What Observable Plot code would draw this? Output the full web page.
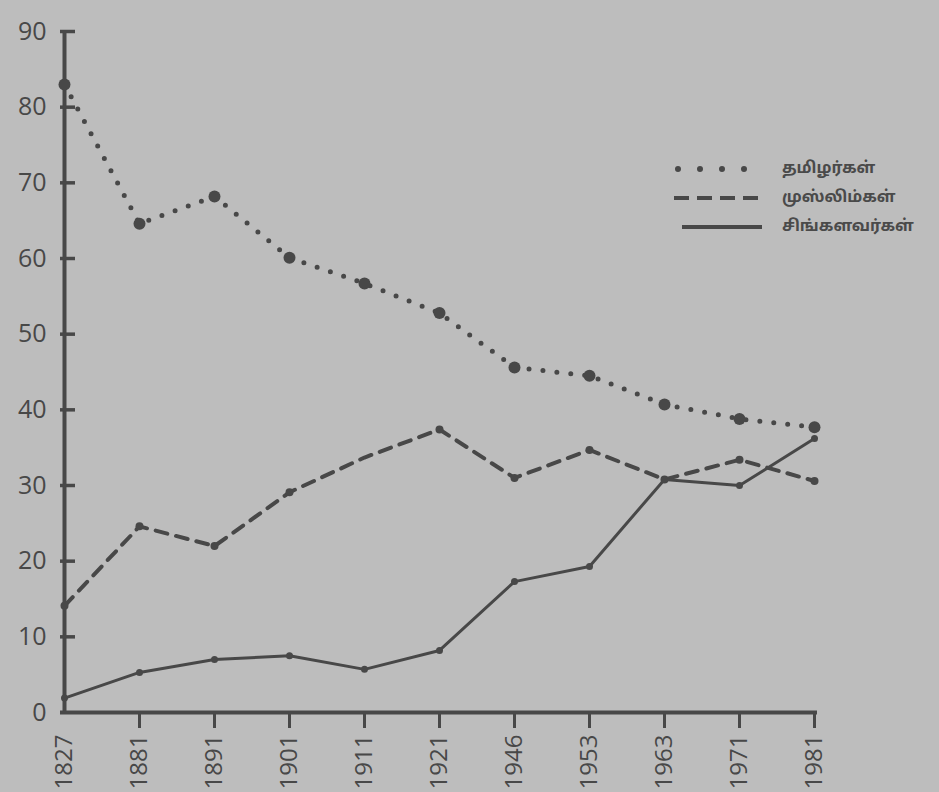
<!DOCTYPE html>
<html><head><meta charset="utf-8">
<script src="https://cdn.jsdelivr.net/npm/d3@7"></script>
<script src="https://cdn.jsdelivr.net/npm/@observablehq/plot@0.6"></script>
<style>
html,body{margin:0;padding:0;background:#bdbdbd;}
#wrap{position:relative;width:939px;height:792px;overflow:hidden;}
#legend{position:absolute;left:672px;top:154px;font-family:"Noto Sans Tamil","Lohit Tamil","Latha","Noto Sans",sans-serif;font-weight:bold;font-size:16px;color:#4a4a4a;}
.row{display:flex;align-items:center;height:29px;}
.row svg{width:92px;height:14px;margin-right:18px;}
</style></head><body>
<div id="wrap"><div id="chart"></div><div id="legend"></div></div>
<script>
const years = ["1827","1881","1891","1901","1911","1921","1946","1953","1963","1971","1981"];
const tamils    = [83.0, 64.6, 68.2, 60.1, 56.7, 52.8, 45.6, 44.5, 40.7, 38.8, 37.7];
const muslims   = [14.1, 24.6, 22.0, 29.1, 33.7, 37.4, 31.0, 34.7, 30.8, 33.4, 30.6];
const sinhalese = [1.9, 5.3, 7.0, 7.5, 5.7, 8.2, 17.3, 19.3, 30.8, 30.0, 36.2];
const seriesNames = ["தமிழர்கள்", "முஸ்லிம்கள்", "சிங்களவர்கள்"];
const yTicks = [0, 10, 20, 30, 40, 50, 60, 70, 80, 90];

const ink = "#484848";
const W = 939, H = 792, ML = 60, MR = 122, MT = 31, MB = 80, TICK = 15;
const toRows = vals => years.map((y, i) => ({year: y, value: vals[i]}));
const tRows = toRows(tamils), mRows = toRows(muslims), sRows = toRows(sinhalese);
const mDots = mRows.filter(d => d.year !== "1911");

const chart = Plot.plot({
  width: W, height: H,
  marginLeft: ML, marginRight: MR, marginTop: MT, marginBottom: MB,
  style: {background: "#bdbdbd", color: ink, fontFamily: "'Open Sans', sans-serif", fontSize: "25px"},
  x: {type: "point", domain: years, padding: 0, label: null},
  y: {domain: [0, 90], label: null},
  marks: [
    Plot.axisY(yTicks, {tickSize: 0, tickPadding: 14, fontSize: 25, fill: ink}),
    Plot.axisX(years.slice(1), {tickSize: 16, text: null, strokeWidth: 3, stroke: ink}),
    Plot.axisX(years, {tickSize: 0, tickPadding: 22, tickRotate: -90, fontSize: 24, fill: ink}),
    Plot.ruleX([years[0]], {y1: 0, y2: 90, stroke: ink, strokeWidth: 4}),
    Plot.ruleY([0], {stroke: ink, strokeWidth: 4}),
    Plot.ruleY(yTicks.slice(1), {y: d => d, insetRight: W - ML - MR - TICK, stroke: ink, strokeWidth: 3.5}),
    Plot.line(tRows, {x: "year", y: "value", stroke: ink, strokeWidth: 5, strokeDasharray: "0 14", strokeLinecap: "round"}),
    Plot.dot(tRows, {x: "year", y: "value", r: 6, fill: ink}),
    Plot.line(mRows, {x: "year", y: "value", stroke: ink, strokeWidth: 4, strokeDasharray: "12 9"}),
    Plot.dot(mDots, {x: "year", y: "value", r: 4, fill: ink}),
    Plot.line(sRows, {x: "year", y: "value", stroke: ink, strokeWidth: 3}),
    Plot.dot(sRows, {x: "year", y: "value", r: 3.5, fill: ink})
  ]
});
document.getElementById("chart").appendChild(chart);

const swatches = [
  `<line x1="6" y1="7" x2="80" y2="7" stroke="${ink}" stroke-width="6" stroke-dasharray="0 22" stroke-linecap="round"/>`,
  `<line x1="2" y1="7" x2="90" y2="7" stroke="${ink}" stroke-width="4" stroke-dasharray="15 8"/>`,
  `<line x1="10" y1="7" x2="90" y2="7" stroke="${ink}" stroke-width="4"/>`
];
const legend = document.getElementById("legend");
seriesNames.forEach((name, i) => {
  const row = document.createElement("div");
  row.className = "row";
  row.innerHTML = `<svg viewBox="0 0 92 14">${swatches[i]}</svg><span>${name}</span>`;
  legend.appendChild(row);
});
</script>
</body></html>
